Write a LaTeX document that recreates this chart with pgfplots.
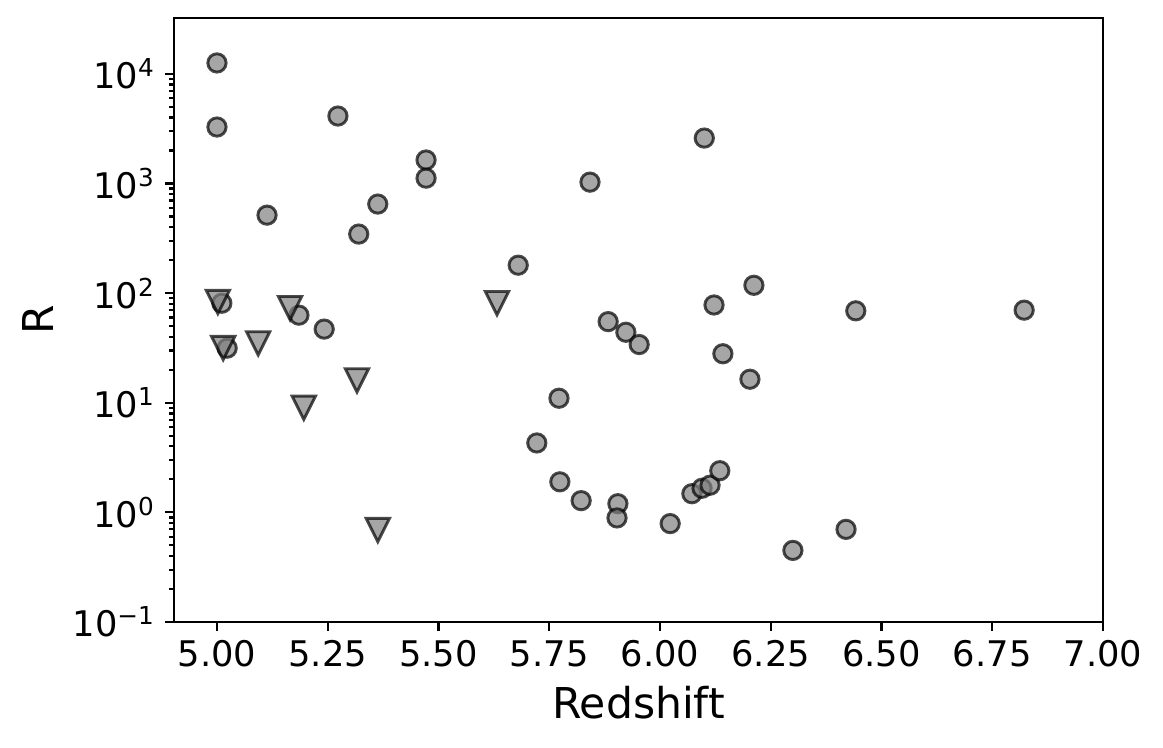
\documentclass[border=0pt]{standalone}
\usepackage{pgfplots}
\pgfplotsset{compat=1.18}
\usepackage{fontspec}
\setmainfont{DejaVu Sans}
\pgfdeclareplotmark{tridown}{%
  \pgfpathmoveto{\pgfqpoint{0pt}{-\pgfplotmarksize}}%
  \pgfpathlineto{\pgfqpoint{-\pgfplotmarksize}{\pgfplotmarksize}}%
  \pgfpathlineto{\pgfqpoint{\pgfplotmarksize}{\pgfplotmarksize}}%
  \pgfpathclose\pgfusepathqfillstroke}
\newcommand{\ep}[1]{10\textsuperscript{#1}}
\begin{document}
\begin{tikzpicture}
\useasboundingbox (-62.64pt,-45.36pt) rectangle (356.04pt,223.92pt);
\begin{axis}[
  at={(0,0)}, anchor=south west,
  scale only axis,
  width=334.44pt, height=217.44pt,
  xmin=4.903, xmax=7.0,
  ymode=log, ymin=0.1, ymax=32400,
  xtick={5,5.25,5.5,5.75,6,6.25,6.5,6.75,7},
  xticklabels={5.00,5.25,5.50,5.75,6.00,6.25,6.50,6.75,7.00},
  ytick={0.1,1,10,100,1000,10000},
  yticklabels={\ep{−1},\ep{0},\ep{1},\ep{2},\ep{3},\ep{4}},
  tick align=outside,
  major tick length=3.2pt, minor tick length=1.8pt,
  every tick/.style={black, line width=0.8pt},
  axis line style={line width=0.8pt},
  xtick pos=bottom, ytick pos=left,
  ticklabel style={font=\fontsize{12.7}{14}\selectfont},
  label style={font=\fontsize{15.3}{17}\selectfont},
  xlabel={Redshift}, ylabel={R},
  clip=false,
]
\addplot[only marks, mark=*, mark size=3.3pt,
  mark options={fill=gray, draw=black, fill opacity=0.7, draw opacity=0.7, line width=1.05pt}]
coordinates {
(5.000,12600) (5.000,3280) (5.273,4130) (5.472,1640) (5.472,1120)
(5.113,515) (5.363,650) (5.320,346) (5.842,1030) (6.100,2600)
(5.680,180) (6.212,118) (6.122,78) (6.442,69) (6.822,70)
(5.011,81) (5.185,63) (5.242,47) (5.023,31.5)
(5.883,55) (5.923,44) (5.953,34) (6.142,28) (6.203,16.4)
(5.772,11) (5.722,4.3) (5.774,1.9) (5.822,1.28) (5.905,1.2)
(5.903,0.89) (6.023,0.79) (6.072,1.48) (6.095,1.66) (6.113,1.77)
(6.135,2.4) (6.300,0.45) (6.420,0.70)
};
\addplot[only marks, mark=tridown, mark size=4.2pt,
  mark options={fill=gray, draw=black, fill opacity=0.7, draw opacity=0.7, line width=1.05pt, line join=miter}]
coordinates {
(5.002,83) (5.014,31.6) (5.093,34.8) (5.165,73) (5.196,9.0)
(5.316,16) (5.363,0.69) (5.632,81)
};
\end{axis}
\end{tikzpicture}
\end{document}
